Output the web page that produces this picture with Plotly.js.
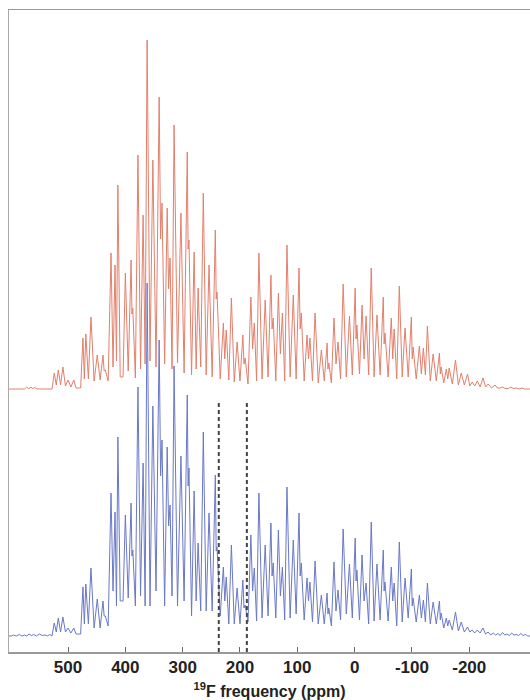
<!DOCTYPE html>
<html>
<head>
<meta charset="utf-8">
<script src="https://cdn.plot.ly/plotly-3.0.1.min.js"></script>
<style>html,body{margin:0;padding:0;background:#fff;}#chart{width:530px;height:700px;}</style>
</head>
<body>
<div id="chart"></div>
<script>
// Red (top) spectrum: peak positions (ppm), peak heights and valley heights between consecutive peaks
var redPpm = [572,565,558,524,517,509,500,490,474,469,460,449,439,435,425,418,413,400,390,387,378,369,362,352,341,336,327,322,315,303,292,289,280,273,264,254,243,240,229,224,215,205,195,191,181,175,167,156,146,142,133,126,118,107,97,93,83,78,69,58,48,45,36,29,20,9,-1,-4,-13,-20,-29,-39,-50,-53,-64,-69,-78,-88,-99,-102,-113,-120,-127,-137,-148,-151,-160,-165,-176,-186,-197,-205,-214,-224,-233,-245,-258,-272,-282,-292];
var redPeak = [2,2,1.5,16,19,22,9,9,51,55,72,34,34,19,136,124,204,116,129,81,234,174,349,229,292,186,181,131,264,176,237,149,137,101,196,124,159,97,66,59,91,47,54,31,92,66,136,89,114,71,96,76,144,94,121,76,54,51,76,39,46,26,71,47,105,73,101,64,84,73,121,74,92,56,71,60,103,61,72,42,43,41,63,35,36,22,20,21,29,16,15,7,8,11,5,4,2,2,1,1];
var redValley = [0,0.5,0,4,4,3,2,1,10,10,8,9,18,8,22,28,12,18,75,11,20,25,28,22,150,25,100,20,26,16,140,14,20,22,14,12,90,10,30,9,7,8,25,5,40,8,10,12,60,8,35,8,12,10,60,8,30,8,6,8,20,6,25,10,12,14,50,15,30,14,12,14,45,12,30,10,12,12,30,10,15,14,8,8,15,6,10,5,4,4,3,3,2,2,1,1,0.5,0.5,0];

// Blue (bottom) spectrum
var bluePpm = [595,585,576,568,560,550,540,532,524,517,509,500,490,474,469,460,449,439,435,425,418,413,400,390,387,378,369,362,352,341,336,327,322,315,303,292,289,280,273,264,254,243,240,229,224,215,205,195,191,181,175,167,156,146,142,133,126,118,107,97,93,83,78,69,58,48,45,36,29,20,9,-1,-4,-13,-20,-29,-39,-50,-53,-64,-69,-78,-88,-99,-102,-113,-120,-127,-137,-148,-151,-160,-165,-176,-186,-197,-205,-214,-224,-233,-242,-250,-258,-266,-274,-282,-290,-298];
var bluePeak = [1,1.5,1,2,1.5,2,1,1.5,13,18,19,8,8,49,52,68,37,35,20,143,124,199,121,133,86,249,173,353,230,296,196,189,131,270,180,241,168,145,93,204,123,161,89,69,59,91,48,56,31,101,68,143,91,113,73,106,69,149,96,123,73,58,54,75,41,43,28,74,46,107,72,98,66,81,53,114,72,86,54,69,53,94,58,67,38,41,36,53,34,35,23,18,16,24,14,9,6,6,8,4,3,2.5,3.5,2,3,1.5,2.5,1.5];
var blueValley = [0,0,0,0.5,0,0.5,0,0,4,4,4,3,2,12,12,8,8,20,10,45,30,35,38,80,30,40,30,30,45,160,30,110,40,30,35,150,20,35,25,25,25,85,20,35,12,12,12,28,14,45,15,18,20,60,18,40,16,18,22,60,16,35,14,12,12,22,10,25,16,22,18,55,16,35,12,15,16,45,15,35,10,14,18,30,14,18,14,12,12,16,8,10,6,5,4,4,3,3,2,1,1,0.5,1,0.5,1,0.5,0.5];

var tickVals = [500,400,300,200,100,0,-100,-200];
var tickText = ['500','400','300','200','100','0','-100','-200'];
var markerPpm = [237,188];

var xMin = -306, xMax = 603;
var redOffset = 263, blueOffset = 16;

function buildTrace(ppm, peak, valley, offset) {
  var xs = [xMax], ys = [offset];
  for (var i = 0; i < ppm.length; i++) {
    var gapBefore = i > 0 ? ppm[i-1] - ppm[i] : 999;
    if (gapBefore > 12) { xs.push(ppm[i] + 4); ys.push(offset + (i > 0 ? (valley[i-1] || 0) : 0)); }
    xs.push(ppm[i]); ys.push(offset + peak[i]);
    if (i < ppm.length - 1) {
      var gap = ppm[i] - ppm[i+1];
      var v = valley[i] || 0;
      if (gap <= 12) { xs.push((ppm[i] + ppm[i+1]) / 2); ys.push(offset + v); }
      else { xs.push(ppm[i] - 4); ys.push(offset + v); }
    } else {
      xs.push(ppm[i] - 4); ys.push(offset);
    }
  }
  xs.push(xMin); ys.push(offset);
  return {x: xs, y: ys};
}

var r = buildTrace(redPpm, redPeak, redValley, redOffset);
var b = buildTrace(bluePpm, bluePeak, blueValley, blueOffset);

var traces = [
  {x: r.x, y: r.y, type: 'scatter', mode: 'lines', line: {color: '#e2806c', width: 1}, hoverinfo: 'skip'},
  {x: b.x, y: b.y, type: 'scatter', mode: 'lines', line: {color: '#6a78c6', width: 1}, hoverinfo: 'skip'}
];

var shapes = markerPpm.map(function(p) {
  return {type: 'line', xref: 'x', yref: 'y', x0: p, x1: p, y0: 0, y1: 250,
          line: {color: '#444', width: 2, dash: '4px,3px'}};
});

var layout = {
  width: 530, height: 700,
  margin: {l: 9, r: 0, t: 10, b: 48},
  paper_bgcolor: '#fff', plot_bgcolor: '#fff',
  showlegend: false,
  shapes: shapes,
  xaxis: {
    range: [xMax, xMin], showgrid: false, zeroline: false,
    showline: true, linecolor: '#999', linewidth: 1.5, mirror: true,
    ticks: 'inside', ticklen: 5, tickcolor: '#666', tickwidth: 1,
    tickvals: tickVals, ticktext: tickText, ticklabelstandoff: -1,
    tickfont: {family: 'Liberation Sans, Arial, sans-serif', size: 17, color: '#222', weight: 'bold'},
    title: {text: '<sup>19</sup>F frequency (ppm)', standoff: 12,
            font: {family: 'Liberation Sans, Arial, sans-serif', size: 16, color: '#222', weight: 'bold'}},
    automargin: false
  },
  yaxis: {
    range: [0, 642], showgrid: false, zeroline: false, showticklabels: false,
    showline: true, linecolor: '#aaa', linewidth: 1.5, ticks: ''
  }
};

Plotly.newPlot('chart', traces, layout, {staticPlot: true, displayModeBar: false});
</script>
</body>
</html>
